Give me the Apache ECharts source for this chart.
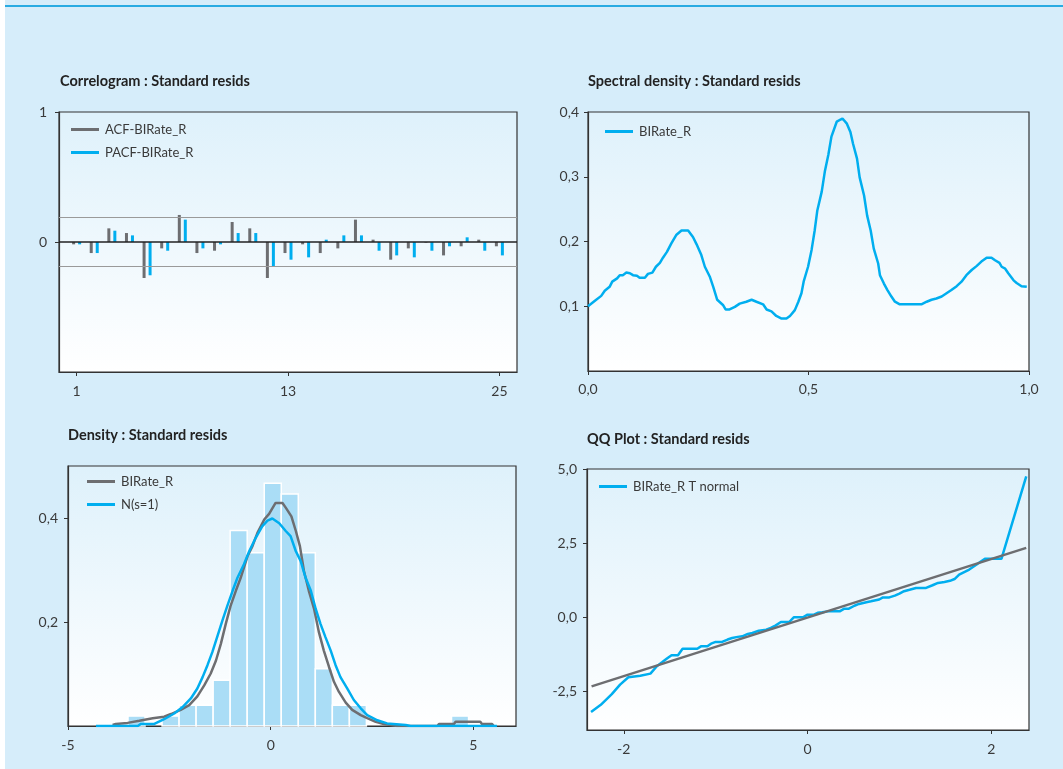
<!DOCTYPE html>
<html>
<head>
<meta charset="utf-8">
<script src="https://cdn.jsdelivr.net/npm/echarts@6/dist/echarts.min.js"></script>
<style>
  html, body { margin: 0; padding: 0; background: #ffffff; }
  #chart { position: absolute; left: 5px; top: 0; width: 1058px; height: 769px; }
</style>
</head>
<body>
<div id="chart"></div>
<script>
// ---- Correlogram: ACF / PACF by lag ----
const lags = [1,2,3,4,5,6,7,8,9,10,11,12,13,14,15,16,17,18,19,20,21,22,23,24,25];
const acfValues = [-0.018,-0.085,0.105,0.069,-0.277,-0.049,0.208,-0.085,-0.067,0.154,0.105,-0.277,-0.085,-0.018,-0.085,-0.049,0.172,0.018,-0.136,-0.049,-0.005,-0.103,-0.033,0.018,-0.033];
const pacfValues = [-0.018,-0.085,0.087,0.051,-0.256,-0.067,0.172,-0.049,-0.018,0.069,0.069,-0.187,-0.136,-0.118,0.018,0.051,0.051,-0.067,-0.103,-0.118,-0.067,-0.033,0.036,-0.067,-0.103];
const confBand = 0.19;
const corrXTicks = [1, 13, 25];
const corrYTicks = [0, 1];

// ---- Spectral density ----
const specFreq = [0,0.015,0.030,0.038,0.049,0.055,0.066,0.072,0.079,0.087,0.095,0.102,0.111,0.117,0.129,0.136,0.146,0.154,0.163,0.170,0.179,0.189,0.200,0.212,0.227,0.238,0.246,0.257,0.265,0.276,0.284,0.293,0.306,0.312,0.321,0.333,0.344,0.359,0.371,0.382,0.397,0.405,0.416,0.427,0.439,0.450,0.458,0.469,0.477,0.484,0.489,0.499,0.507,0.514,0.520,0.530,0.537,0.545,0.552,0.564,0.577,0.587,0.595,0.601,0.610,0.616,0.626,0.633,0.641,0.648,0.658,0.662,0.671,0.679,0.688,0.696,0.707,0.722,0.737,0.756,0.768,0.779,0.790,0.802,0.813,0.824,0.836,0.847,0.858,0.870,0.881,0.892,0.904,0.915,0.923,0.933,0.938,0.946,0.953,0.965,0.972,0.983,0.995];
const specPower = [0.100,0.108,0.116,0.124,0.130,0.138,0.143,0.148,0.148,0.152,0.151,0.148,0.147,0.144,0.144,0.150,0.152,0.161,0.167,0.175,0.184,0.197,0.210,0.217,0.217,0.207,0.196,0.179,0.161,0.146,0.130,0.110,0.102,0.095,0.095,0.099,0.104,0.107,0.110,0.107,0.103,0.095,0.092,0.085,0.081,0.081,0.085,0.094,0.107,0.120,0.138,0.161,0.187,0.217,0.248,0.277,0.308,0.334,0.362,0.385,0.390,0.382,0.369,0.351,0.328,0.299,0.271,0.240,0.217,0.189,0.166,0.148,0.135,0.125,0.115,0.107,0.103,0.103,0.103,0.103,0.107,0.110,0.112,0.115,0.120,0.125,0.131,0.138,0.148,0.156,0.162,0.169,0.175,0.175,0.171,0.167,0.161,0.158,0.151,0.140,0.136,0.131,0.130];
const specXTicks = [0, 0.5, 1];
const specYTicks = [0.1, 0.2, 0.3, 0.4];

// ---- Density: histogram bins, kernel density, normal reference ----
const histLo = [-3.52,-2.68,-2.26,-1.84,-1.42,-1.00,-0.58,-0.16,0.26,0.68,1.10,1.52,1.94,4.46];
const histHi = [-3.10,-2.26,-1.84,-1.42,-1.00,-0.58,-0.16,0.26,0.68,1.10,1.52,1.94,2.36,4.88];
const histHeight = [0.019,0.019,0.040,0.040,0.088,0.376,0.333,0.467,0.446,0.333,0.110,0.040,0.040,0.019];
const kdeX = [-3.90,-3.82,-3.53,-3.49,-3.24,-3.20,-2.91,-2.87,-2.63,-2.46,-2.22,-2.01,-1.81,-1.64,-1.48,-1.35,-1.23,-1.11,-0.99,-0.86,-0.74,-0.57,-0.45,-0.33,-0.16,-0.04,0.12,0.29,0.37,0.51,0.62,0.72,0.82,0.94,1.07,1.19,1.31,1.44,1.56,1.68,1.85,2.01,2.22,2.38,2.59,2.79,2.96,3.12,4.11,4.15,4.52,4.56,5.17,5.21,5.46,5.50];
const kdeY = [0.002,0.004,0.006,0.008,0.010,0.013,0.015,0.017,0.018,0.023,0.031,0.040,0.057,0.078,0.101,0.126,0.158,0.196,0.231,0.260,0.285,0.327,0.346,0.371,0.397,0.408,0.429,0.429,0.420,0.403,0.375,0.346,0.298,0.260,0.225,0.180,0.145,0.113,0.085,0.066,0.045,0.031,0.021,0.015,0.008,0.004,0.002,0,0,0.004,0.004,0.008,0.008,0.004,0.004,0];
const normX = [-4.31,-3.28,-3.20,-2.87,-2.63,-2.38,-2.18,-1.97,-1.81,-1.68,-1.56,-1.44,-1.31,-1.19,-1.07,-0.94,-0.82,-0.66,-0.53,-0.37,-0.21,-0.08,0.04,0.21,0.37,0.49,0.62,0.74,0.86,0.99,1.11,1.23,1.35,1.48,1.60,1.72,1.89,2.05,2.22,2.38,2.63,2.87,3.33,3.45,5.58];
const normY = [0,0,0.004,0.004,0.013,0.024,0.036,0.053,0.072,0.094,0.117,0.142,0.174,0.203,0.231,0.260,0.285,0.311,0.336,0.362,0.384,0.395,0.399,0.390,0.375,0.365,0.336,0.317,0.285,0.260,0.225,0.196,0.171,0.145,0.117,0.094,0.072,0.050,0.034,0.021,0.011,0.005,0.002,0,0];
const densXTicks = [-5, 0, 5];
const densYTicks = [0.2, 0.4];

// ---- QQ plot ----
const qqTheoretical = [-2.356,-2.25,-2.13,-2.04,-1.95,-1.82,-1.71,-1.64,-1.58,-1.53,-1.48,-1.41,-1.36,-1.30,-1.20,-1.16,-1.09,-1.05,-1.00,-0.93,-0.87,-0.82,-0.76,-0.71,-0.65,-0.60,-0.53,-0.45,-0.40,-0.35,-0.29,-0.20,-0.15,-0.05,0.00,0.07,0.11,0.16,0.22,0.28,0.35,0.40,0.45,0.51,0.56,0.64,0.69,0.78,0.82,0.89,0.95,1.00,1.05,1.11,1.18,1.29,1.36,1.42,1.49,1.55,1.60,1.65,1.71,1.76,1.84,1.89,1.93,2.02,2.11,2.38];
const qqSample = [-3.19,-2.95,-2.59,-2.27,-2.02,-1.97,-1.90,-1.65,-1.51,-1.39,-1.28,-1.28,-1.06,-1.06,-1.06,-0.98,-0.98,-0.89,-0.83,-0.83,-0.75,-0.70,-0.66,-0.64,-0.56,-0.53,-0.45,-0.42,-0.36,-0.28,-0.16,-0.16,0,0,0.09,0.09,0.15,0.17,0.20,0.20,0.20,0.29,0.29,0.39,0.45,0.51,0.54,0.60,0.67,0.67,0.73,0.80,0.88,0.93,0.99,0.99,1.08,1.16,1.19,1.23,1.29,1.44,1.53,1.61,1.78,1.89,1.97,1.97,1.97,4.75];
const qqLineX = [-2.35, 2.38];
const qqLineY = [-2.33, 2.34];
const qqXTicks = [-2, 0, 2];
const qqYTicks = [-2.5, 0, 2.5, 5];

// ---- styling ----
const FONT = 'Lato, "Open Sans", sans-serif';
const GRAY = '#6d6e71';
const BLUE = '#00aeef';
const TEXT = '#3a3a3a';
const comma = (d) => (v) => v.toFixed(d).replace('.', ',');
const pair = (xs, ys) => xs.map((x, i) => [x, ys[i]]);

const plotBg = new echarts.graphic.LinearGradient(0, 0, 0, 1, [
  { offset: 0, color: '#def1fb' },
  { offset: 1, color: '#ffffff' }
]);

function grid(left, top, width, height) {
  return { left, top, width, height, show: true, backgroundColor: plotBg,
           borderColor: '#333333', borderWidth: 1.2, containLabel: false };
}

function axis(gridIndex, min, max, ticks, fmt, margin) {
  return {
    type: 'value', gridIndex, min, max,
    axisLine: { show: true, onZero: false, lineStyle: { color: '#333333', width: 1.2 } },
    axisTick: { show: true, length: 4, customValues: ticks, lineStyle: { color: '#333333' } },
    axisLabel: { customValues: ticks, formatter: fmt, color: TEXT, fontFamily: FONT, fontSize: 14, margin },
    splitLine: { show: false }
  };
}

function legend(left, top, items) {
  return {
    left, top, orient: 'vertical', padding: 0, itemGap: 6,
    itemWidth: 28, itemHeight: 3, icon: 'rect', selectedMode: false,
    textStyle: { color: TEXT, fontFamily: FONT, fontSize: 13, lineHeight: 17, padding: [0, 0, 0, 1] },
    data: items
  };
}

function title(text, left, top) {
  return { text, left, top, padding: 0,
           textStyle: { fontFamily: FONT, fontSize: 14.5, fontWeight: 'bold', color: '#222222' } };
}

const chart = echarts.init(document.getElementById('chart'), null, { renderer: 'canvas' });

chart.setOption({
  backgroundColor: '#d6edfa',
  animation: false,
  graphic: [
    { type: 'rect', left: 0, top: 5, shape: { width: 1058, height: 2 }, style: { fill: '#29abe2' } }
  ],
  title: [
    title('Correlogram : Standard resids', 55, 74),
    title('Spectral density : Standard resids', 583, 74),
    title('Density : Standard resids', 63, 428),
    title('QQ Plot : Standard resids', 582, 432)
  ],
  legend: [
    legend(66, 121, [{ name: 'ACF-BIRate_R', itemStyle: { color: GRAY } },
                     { name: 'PACF-BIRate_R', itemStyle: { color: BLUE } }]),
    legend(600, 123, [{ name: 'BIRate_R', itemStyle: { color: BLUE } }]),
    legend(82, 473, [{ name: 'BIRate_R', itemStyle: { color: GRAY } },
                     { name: 'N(s=1)', itemStyle: { color: BLUE } }]),
    legend(594, 478, [{ name: 'BIRate_R T normal', itemStyle: { color: BLUE } }])
  ],
  grid: [
    grid(54, 112, 458, 260),
    grid(583, 112, 441, 259),
    grid(63, 466, 448, 260),
    grid(582, 469, 442, 261)
  ],
  xAxis: [
    axis(0, 0, 26, corrXTicks, (v) => String(v), 12),
    axis(1, 0, 1, specXTicks, comma(1), 11),
    axis(2, -5, 6.05, densXTicks, (v) => String(v), 12),
    axis(3, -2.4, 2.41, qqXTicks, (v) => String(v), 12)
  ],
  yAxis: [
    axis(0, -1, 1, corrYTicks, (v) => String(v), 12),
    axis(1, 0, 0.4, specYTicks, comma(1), 9),
    axis(2, 0, 0.5, densYTicks, comma(1), 10),
    axis(3, -3.8, 5, qqYTicks, comma(1), 10)
  ],
  series: [
    {
      name: 'ACF-BIRate_R', type: 'bar', xAxisIndex: 0, yAxisIndex: 0,
      data: pair(lags, acfValues), barWidth: 3, barGap: '100%',
      itemStyle: { color: GRAY }, color: GRAY,
      markLine: {
        silent: true, symbol: 'none', label: { show: false },
        data: [
          { yAxis: confBand, lineStyle: { color: '#9a9a9a', width: 1.2, type: 'solid' } },
          { yAxis: -confBand, lineStyle: { color: '#9a9a9a', width: 1.2, type: 'solid' } },
          { yAxis: 0, lineStyle: { color: '#222222', width: 1.5, type: 'solid' } }
        ]
      }
    },
    {
      name: 'PACF-BIRate_R', type: 'bar', xAxisIndex: 0, yAxisIndex: 0,
      data: pair(lags, pacfValues), barWidth: 3, barGap: '100%',
      itemStyle: { color: BLUE }, color: BLUE
    },
    {
      name: 'BIRate_R', type: 'line', xAxisIndex: 1, yAxisIndex: 1,
      data: pair(specFreq, specPower), symbol: 'none', color: BLUE,
      lineStyle: { color: BLUE, width: 2.5 }
    },
    {
      type: 'custom', xAxisIndex: 2, yAxisIndex: 2, silent: true,
      data: histLo.map((lo, i) => [lo, histHi[i], histHeight[i]]),
      encode: { x: [0, 1], y: 2 },
      renderItem: (params, api) => {
        const p0 = api.coord([api.value(0), api.value(2)]);
        const p1 = api.coord([api.value(1), 0]);
        return {
          type: 'rect',
          shape: { x: p0[0], y: p0[1], width: p1[0] - p0[0], height: p1[1] - p0[1] },
          style: { fill: '#aaddf6', stroke: '#ffffff', lineWidth: 1.5 }
        };
      }
    },
    {
      name: 'BIRate_R', type: 'line', xAxisIndex: 2, yAxisIndex: 2,
      data: pair(kdeX, kdeY), symbol: 'none', color: GRAY,
      lineStyle: { color: GRAY, width: 2.5 }
    },
    {
      name: 'N(s=1)', type: 'line', xAxisIndex: 2, yAxisIndex: 2,
      data: pair(normX, normY), symbol: 'none', color: BLUE,
      lineStyle: { color: BLUE, width: 2.5 }
    },
    {
      name: 'BIRate_R T normal', type: 'line', xAxisIndex: 3, yAxisIndex: 3,
      data: pair(qqTheoretical, qqSample), symbol: 'none', color: BLUE,
      lineStyle: { color: BLUE, width: 2.5 }
    },
    {
      type: 'line', xAxisIndex: 3, yAxisIndex: 3,
      data: pair(qqLineX, qqLineY), symbol: 'none', color: GRAY,
      lineStyle: { color: GRAY, width: 2.5 }
    }
  ]
});
</script>
</body>
</html>
